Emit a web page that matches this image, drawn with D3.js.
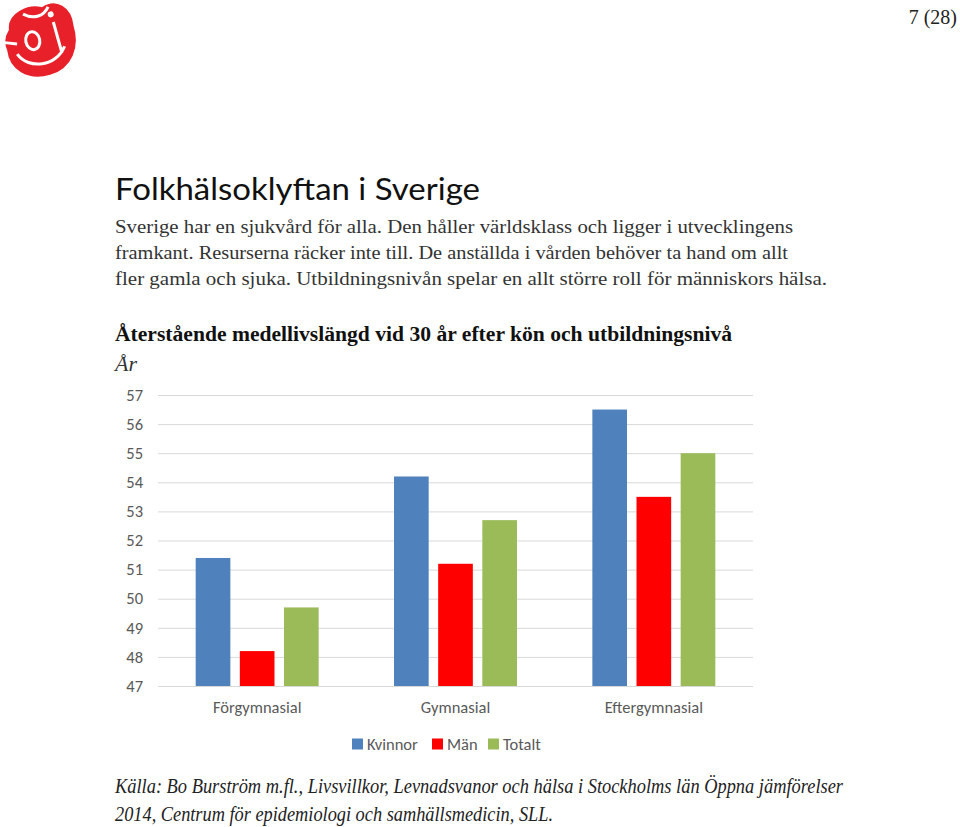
<!DOCTYPE html>
<html><head><meta charset="utf-8">
<script src="https://cdn.jsdelivr.net/npm/d3@7"></script>
<style>html,body{margin:0;padding:0;background:#fff;}svg{display:block;}</style>
</head><body>
<div id="chart"></div>
<script>
const categories = ["Förgymnasial", "Gymnasial", "Eftergymnasial"];
const seriesNames = ["Kvinnor", "Män", "Totalt"];
const kvinnor = [51.4, 54.2, 56.5];
const man = [48.2, 51.2, 53.5];
const totalt = [49.7, 52.7, 55.0];
const yTicks = [47, 48, 49, 50, 51, 52, 53, 54, 55, 56, 57];
const colors = ["#4F81BD", "#FF0000", "#9BBB59"];

const paragraph = [
  "Sverige har en sjukvård för alla. Den håller världsklass och ligger i utvecklingens",
  "framkant. Resurserna räcker inte till. De anställda i vården behöver ta hand om allt",
  "fler gamla och sjuka. Utbildningsnivån spelar en allt större roll för människors hälsa."
];
const footer = [
  "Källa: Bo Burström m.fl., Livsvillkor, Levnadsvanor och hälsa i Stockholms län Öppna jämförelser",
  "2014, Centrum för epidemiologi och samhällsmedicin, SLL."
];

const W = 960, H = 827;
const svg = d3.select("#chart").append("svg").attr("width", W).attr("height", H);

// logo
const logo = svg.append("g").attr("transform", "translate(41,41) rotate(-12)");
logo.append("path").attr("d", "M-30,-18 C-28,-36 -4,-40 8,-34 C24,-40 38,-28 36,-8 C38,14 26,34 2,36 C-22,38 -38,22 -36,2 C-38,-8 -34,-14 -30,-18 Z")
  .attr("fill", "#E8202A").attr("stroke", "#fff").attr("stroke-width", 2);
logo.append("path").attr("d", "M-12,-30 C-2,-22 8,-24 14,-32").attr("fill", "none").attr("stroke", "#fff").attr("stroke-width", 3);
logo.append("path").attr("d", "M-26,8 C-18,26 10,28 22,10").attr("fill", "none").attr("stroke", "#fff").attr("stroke-width", 3);
logo.append("ellipse").attr("cx", -8).attr("cy", -2).attr("rx", 7).attr("ry", 9).attr("fill", "none").attr("stroke", "#fff").attr("stroke-width", 3);
logo.append("path").attr("d", "M16,-16 L18,16").attr("fill", "none").attr("stroke", "#fff").attr("stroke-width", 3);
logo.append("circle").attr("cx", 15).attr("cy", -24).attr("r", 3).attr("fill", "#fff");
logo.append("path").attr("d", "M-36,-6 L-24,-2").attr("fill", "none").attr("stroke", "#fff").attr("stroke-width", 3);

// page number
svg.append("text").attr("x", 957).attr("y", 24).attr("text-anchor", "end")
  .attr("font-family", "Liberation Serif, serif").attr("font-size", 20).attr("fill", "#222").text("7 (28)");

// title
svg.append("text").attr("x", 115).attr("y", 200)
  .attr("font-family", "Lato, 'Open Sans', sans-serif").attr("font-size", 31).attr("fill", "#111")
  .attr("textLength", 365).attr("lengthAdjust", "spacingAndGlyphs").text("Folkhälsoklyftan i Sverige");

const paraWidths = [678, 673, 712];
paragraph.forEach((t, i) => {
  svg.append("text").attr("x", 115).attr("y", 233 + i * 26)
    .attr("font-family", "Liberation Serif, serif").attr("font-size", 19).attr("fill", "#333")
    .attr("textLength", paraWidths[i]).attr("lengthAdjust", "spacingAndGlyphs").text(t);
});

// chart title
svg.append("text").attr("x", 115).attr("y", 341)
  .attr("font-family", "Liberation Serif, serif").attr("font-size", 20).attr("font-weight", "bold").attr("fill", "#111")
  .attr("textLength", 617).attr("lengthAdjust", "spacingAndGlyphs")
  .text("Återstående medellivslängd vid 30 år efter kön och utbildningsnivå");
svg.append("text").attr("x", 115).attr("y", 371)
  .attr("font-family", "Liberation Serif, serif").attr("font-size", 22).attr("font-style", "italic").attr("fill", "#333")
  .text("År");

// chart
const labelFont = "Carlito, 'Open Sans', sans-serif";
const plot = {left: 158, right: 753, top: 395, bottom: 686};
const y = d3.scaleLinear().domain([47, 57]).range([plot.bottom, plot.top]);
const x0 = d3.scaleBand().domain(categories).range([plot.left, plot.right]).paddingInner(0.38).paddingOuter(0.19);
const x1 = d3.scaleBand().domain(seriesNames).range([0, x0.bandwidth()]).paddingInner(0.215).paddingOuter(0);
const seriesVals = [kvinnor, man, totalt];
const color = d3.scaleOrdinal().domain(seriesNames).range(colors);

const yAxis = svg.append("g").attr("transform", `translate(${plot.left},0)`)
  .call(d3.axisLeft(y).tickValues(yTicks).tickSize(-(plot.right - plot.left)).tickPadding(15).tickFormat(d3.format("d")));
yAxis.select(".domain").remove();
yAxis.selectAll(".tick line").attr("stroke", "#D9D9D9").attr("stroke-width", 1);
yAxis.selectAll(".tick text").attr("font-family", labelFont).attr("font-size", 16.5).attr("fill", "#595959");

const groups = svg.append("g").selectAll("g").data(categories).join("g")
  .attr("transform", d => `translate(${x0(d)},0)`);
groups.selectAll("rect").data((c, ci) => seriesNames.map((s, si) => ({s, v: seriesVals[si][ci]}))).join("rect")
  .attr("x", d => x1(d.s)).attr("width", x1.bandwidth())
  .attr("y", d => y(d.v)).attr("height", d => y(47) - y(d.v))
  .attr("fill", d => color(d.s));

const xAxis = svg.append("g").attr("transform", `translate(0,${plot.bottom})`)
  .call(d3.axisBottom(x0).tickSize(0).tickPadding(15));
xAxis.select(".domain").remove();
xAxis.selectAll(".tick text").attr("font-family", labelFont).attr("font-size", 16.5).attr("fill", "#595959");

// legend
const legend = svg.append("g").attr("transform", "translate(352,744)");
const lx = [0, 80, 136];
seriesNames.forEach((s, i) => {
  const g = legend.append("g").attr("transform", `translate(${lx[i]},0)`);
  g.append("rect").attr("x", 0).attr("y", -5.5).attr("width", 11).attr("height", 11).attr("fill", color(s));
  g.append("text").attr("x", 15).attr("y", 6).attr("font-family", labelFont)
    .attr("font-size", 16.5).attr("fill", "#595959").text(s);
});

// footer
const footWidths = [728, 438];
footer.forEach((t, i) => {
  svg.append("text").attr("x", 115).attr("y", 793 + i * 28)
    .attr("font-family", "Liberation Serif, serif").attr("font-size", 20).attr("font-style", "italic").attr("fill", "#222")
    .attr("textLength", footWidths[i]).attr("lengthAdjust", "spacingAndGlyphs").text(t);
});
</script>
</body></html>
